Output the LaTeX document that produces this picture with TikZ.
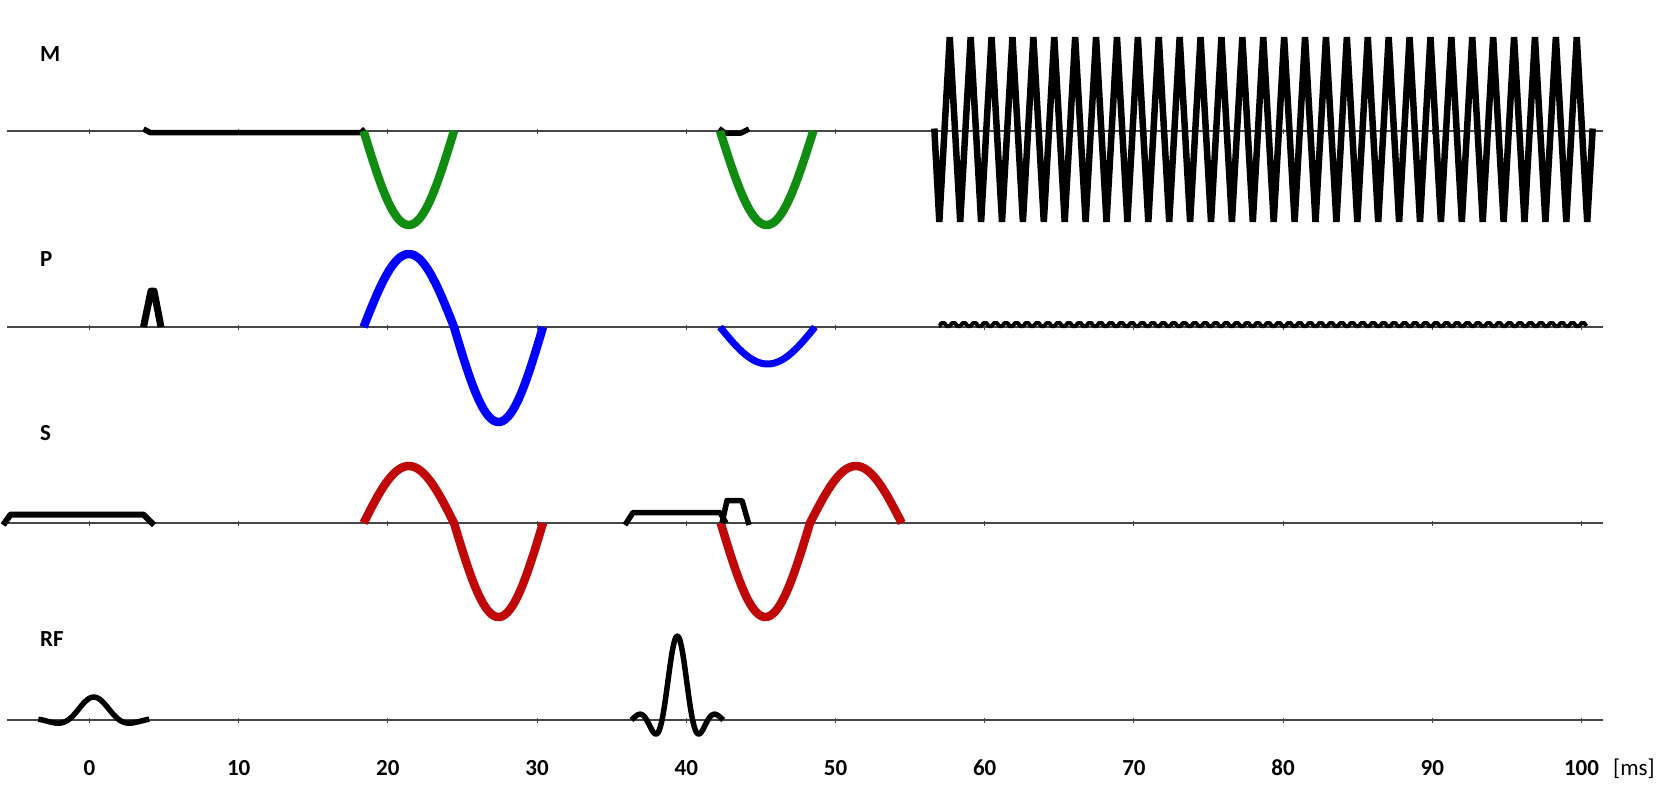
\documentclass[tikz,border=0pt]{standalone}
\usepackage{fontspec}
\setmainfont{Carlito}
\definecolor{gGreen}{RGB}{16,140,16}
\definecolor{gBlue}{RGB}{0,0,255}
\definecolor{gRed}{RGB}{192,8,8}
\definecolor{axisgray}{RGB}{70,70,70}
\begin{document}
\begin{tikzpicture}[x=1pt,y=-1pt,
  axisline/.style={draw=axisgray,line width=1.3},
  tickmark/.style={draw=axisgray,line width=1.1},
  grad/.style={line width=8.5,line cap=butt,line join=round},
  blk/.style={draw=black,line width=5.5,line join=round},
  chlabel/.style={font=\fontsize{23}{28}\selectfont\bfseries,anchor=base west,inner sep=0},
  ticklabel/.style={font=\fontsize{23}{28}\selectfont\bfseries,anchor=base,inner sep=0},
]
\useasboundingbox (0,0) rectangle (1667,793);

% channel labels
\node[chlabel] (labM) at (40,61) {M};
\node[chlabel] (labP) at (40,266) {P};
\node[chlabel] (labS) at (40,440) {S};
\node[chlabel] (labRF) at (40,646) {RF};

% axes and ticks
\foreach \yy/\nm in {131/M,327/P,523/S,720/R} {
  \coordinate (ax\nm W) at (7.4,\yy);
  \coordinate (ax\nm E) at (1602.7,\yy);
  \draw[axisline] (ax\nm W) -- (ax\nm E);
  \foreach \k in {0,...,10}
    \draw[tickmark] ({89.5+149.2*\k},{\yy-2.5}) -- ({89.5+149.2*\k},{\yy+2.5});
}

% time labels
\foreach \k/\lab in {0/0,1/10,2/20,3/30,4/40,5/50,6/60,7/70,8/80,9/90,10/100}
  \node[ticklabel] (t\k) at ({89.5+149.2*\k},775.5) {\lab};
\node[anchor=base west,inner sep=0,font=\fontsize{23}{28}\selectfont] (unit) at (1613,775.5) {[ms]};

% ---------- M channel ----------
\draw[blk] (143.5,129) -- (150,132.5) -- (361,132.5) -- (365,129);
\draw[blk] (719,128.5) -- (725,133) -- (741,133) -- (749,129);
\draw[gGreen,grad] plot[domain=363.6:454,samples=50] (\x,{131+94*sin((\x-363.6)/90.4*180)});
\draw[gGreen,grad] plot[domain=720:813.3,samples=50] (\x,{131+94*sin((\x-720)/93.3*180)});
\draw[blk,line width=6.5,line join=bevel] (934.3,128.5)
  \foreach \k in {0,...,30} { -- ({939.3+20.9*\k},222) -- ({949.75+20.9*\k},37) }
  -- (1587.2,222) -- (1592.7,128.5);

% ---------- P channel ----------
\draw[blk,line width=7] (143.5,327) -- (151,291) -- (154,291) -- (161,327);
\draw[gBlue,grad] plot[domain=363.6:454,samples=50] (\x,{327-73*sin((\x-363.6)/90.4*180)})
  -- plot[domain=454:543,samples=50] (\x,{327+95*sin((\x-454)/89*180)});
\draw[gBlue,grad,line width=7] plot[domain=720:815,samples=50] (\x,{327+37*sin((\x-720)/95*180)});
\draw[blk,line width=4] (939,326)
  \foreach \k in {0,...,61} { -- ({943+10.49*\k-3.5},326) -- ({943+10.49*\k-1.5},323) -- ({943+10.49*\k+1.5},323) -- ({943+10.49*\k+3.5},326) };

% ---------- S channel ----------
\draw[blk,line width=6] (3.2,525) -- (10.6,514.5) -- (143.5,514.5) -- (154,525);
\draw[gRed,grad] plot[domain=363.6:454,samples=50] (\x,{523-57*sin((\x-363.6)/90.4*180)})
  -- plot[domain=454:543,samples=50] (\x,{523+94*sin((\x-454)/89*180)});
\draw[gRed,grad] plot[domain=720.7:810,samples=50] (\x,{523+94*sin((\x-720.7)/89.3*180)})
  -- plot[domain=810:901.7,samples=50] (\x,{523-57*sin((\x-810)/91.7*180)});
\draw[blk] (625,525) -- (633,512.5) -- (720,512.5) -- (726,523);
\draw[blk] (722,523) -- (727,500.5) -- (742,500.5) -- (749,525);

% ---------- RF channel ----------
\draw[blk] plot[domain=-2.16:2.16,samples=60]
  ({93.8+25.7*\x},{720-23*sin(180*\x)/(pi*\x)*(0.75+0.25*cos(180*\x/2.16))});
\draw[blk] plot[domain=-3:3,samples=80]
  ({677.3+15.3*\x},{720-84*sin(180*\x)/(pi*\x)*(0.75+0.25*cos(180*\x/3))});
\end{tikzpicture}
\end{document}
